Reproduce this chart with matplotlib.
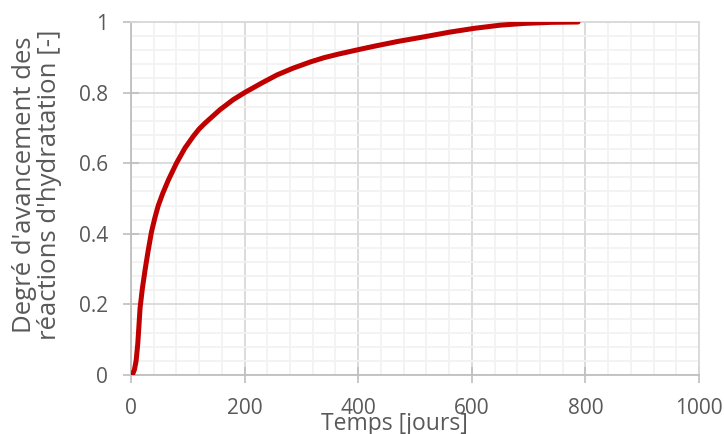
import matplotlib
matplotlib.use('Agg')
import matplotlib.pyplot as plt
from matplotlib.ticker import MultipleLocator

# hydration degree vs time
temps = [0, 3, 6, 9, 12, 16, 20, 25, 30, 36, 42, 48, 56, 66, 80, 95, 110, 120,
         130, 157, 180, 200, 230, 257, 285, 316, 340, 365, 404, 430, 470, 516,
         560, 604, 650, 692, 740, 787]
degre = [0, 0.003, 0.015, 0.04, 0.09, 0.19, 0.245, 0.30, 0.35, 0.405, 0.445,
         0.48, 0.515, 0.553, 0.6, 0.643, 0.677, 0.697, 0.713, 0.752, 0.78, 0.8,
         0.827, 0.85, 0.869, 0.887, 0.899, 0.909, 0.923, 0.932, 0.945, 0.958,
         0.971, 0.982, 0.991, 0.996, 0.999, 1.0]

x_ticks = [0, 200, 400, 600, 800, 1000]
y_ticks = [0, 0.2, 0.4, 0.6, 0.8, 1]
y_ticklabels = ['0', '0.2', '0.4', '0.6', '0.8', '1']

plt.rcParams['font.family'] = ['Open Sans', 'DejaVu Sans']
txt = '#595959'

fig = plt.figure(figsize=(7.24, 4.34), dpi=100)
ax = fig.add_axes([131/724, 1 - 375/434, 568/724, 353/434])

ax.plot(temps, degre, color='#c00000', lw=3.6, solid_capstyle='round',
        solid_joinstyle='round', zorder=3)

ax.set_xlim(0, 1000)
ax.set_ylim(0, 1)
ax.set_xticks(x_ticks)
ax.set_yticks(y_ticks)
ax.set_yticklabels(y_ticklabels)
ax.xaxis.set_minor_locator(MultipleLocator(40))
ax.yaxis.set_minor_locator(MultipleLocator(0.04))

ax.grid(which='major', color='#d9d9d9', lw=1.3)
ax.grid(which='minor', color='#f2f2f2', lw=1.3)
ax.set_axisbelow(True)

ax.tick_params(which='major', direction='inout', length=11, width=1.2,
               color='#bfbfbf', labelcolor=txt, labelsize=15, pad=11)
ax.tick_params(which='minor', length=0)

for s in ['left', 'bottom']:
    ax.spines[s].set_color('#bfbfbf')
    ax.spines[s].set_linewidth(1.3)
for s in ['top', 'right']:
    ax.spines[s].set_color('#d9d9d9')
    ax.spines[s].set_linewidth(1.3)

ax.set_xlabel('Temps [jours]', color=txt, fontsize=16.5)
ax.xaxis.set_label_coords(0.463, -0.105)
ax.set_ylabel("Degré d'avancement des\nréactions d'hydratation [-]", color=txt,
              fontsize=18.5, linespacing=1.0)
ax.yaxis.set_label_coords(-0.121, 0.54)

fig.savefig('out.png', dpi=100)
